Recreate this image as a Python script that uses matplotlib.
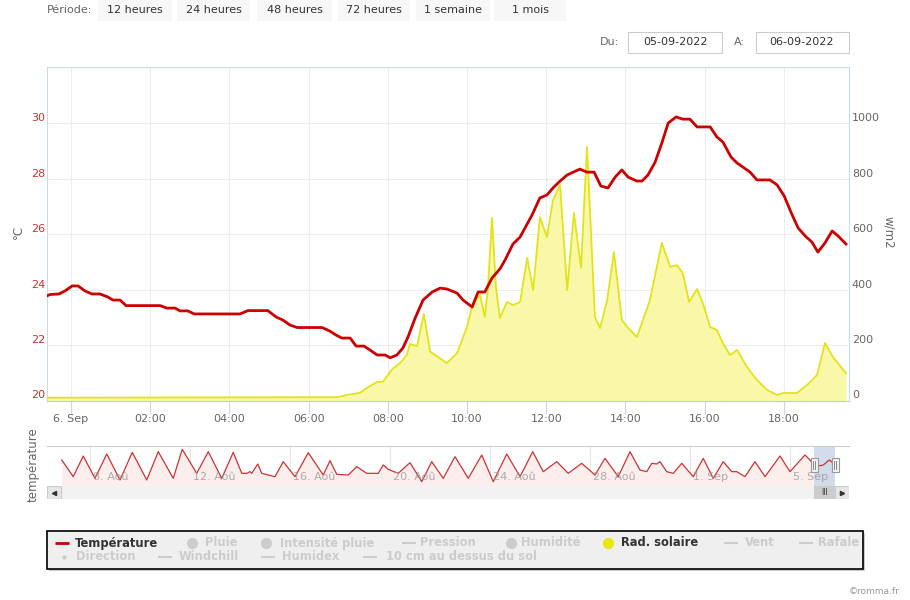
import numpy as np
import matplotlib
matplotlib.use('Agg')
import matplotlib.pyplot as plt
import matplotlib.transforms as mtransforms
from matplotlib.patches import Rectangle

# ---- données : 6 septembre 2022 (heures depuis minuit)
temp_hours = [-0.61, -0.53, -0.30, -0.15, 0.03, 0.18, 0.35, 0.53, 0.73, 0.93,
              1.06, 1.24, 1.39, 2.25, 2.42, 2.63, 2.75, 2.95, 3.11, 4.27,
              4.47, 4.97, 5.18, 5.35, 5.53, 5.71, 6.34, 6.54, 6.69, 6.84,
              7.05, 7.20, 7.40, 7.55, 7.73, 7.93, 8.06, 8.23, 8.38, 8.51,
              8.69, 8.89, 9.12, 9.32, 9.49, 9.75, 9.90, 10.13, 10.28, 10.45,
              10.63, 10.83, 10.96, 11.16, 11.34, 11.64, 11.84, 12.02, 12.17, 12.35,
              12.53, 12.85, 13.03, 13.21, 13.38, 13.56, 13.74, 13.91, 14.07, 14.29,
              14.42, 14.57, 14.75, 14.92, 15.08, 15.28, 15.45, 15.63, 15.81, 16.14,
              16.31, 16.46, 16.67, 16.82, 16.97, 17.15, 17.32, 17.65, 17.83, 18.01,
              18.18, 18.36, 18.54, 18.71, 18.86, 19.04, 19.22, 19.37, 19.57]
temperature = [23.77, 23.82, 23.84, 23.95, 24.13, 24.13, 23.95, 23.84, 23.84, 23.73,
               23.62, 23.62, 23.42, 23.42, 23.33, 23.33, 23.23, 23.23, 23.12, 23.12,
               23.24, 23.24, 23.01, 22.90, 22.72, 22.63, 22.63, 22.50, 22.36, 22.25,
               22.25, 21.96, 21.96, 21.82, 21.64, 21.64, 21.54, 21.64, 21.89, 22.29,
               22.97, 23.62, 23.91, 24.05, 24.02, 23.87, 23.62, 23.37, 23.91, 23.91,
               24.41, 24.74, 25.06, 25.64, 25.89, 26.68, 27.30, 27.41, 27.66, 27.91,
               28.13, 28.34, 28.23, 28.23, 27.73, 27.66, 28.05, 28.31, 28.05, 27.91,
               27.91, 28.13, 28.59, 29.28, 30.00, 30.22, 30.14, 30.14, 29.86, 29.86,
               29.50, 29.32, 28.77, 28.56, 28.41, 28.23, 27.95, 27.95, 27.77, 27.37,
               26.79, 26.22, 25.93, 25.71, 25.35, 25.68, 26.11, 25.93, 25.64]

sol_hours = [-0.61, 6.72, 6.97, 7.30, 7.47, 7.73, 7.88, 8.11, 8.31, 8.48,
             8.56, 8.74, 8.91, 9.07, 9.24, 9.49, 9.75, 10.00, 10.15, 10.33,
             10.45, 10.53, 10.63, 10.73, 10.83, 11.01, 11.16, 11.34, 11.52, 11.67,
             11.84, 12.02, 12.17, 12.35, 12.53, 12.70, 12.88, 13.03, 13.23, 13.36,
             13.54, 13.71, 13.91, 14.07, 14.29, 14.62, 14.92, 15.13, 15.30, 15.45,
             15.61, 15.81, 15.96, 16.14, 16.31, 16.46, 16.64, 16.82, 17.07, 17.32,
             17.58, 17.83, 17.98, 18.33, 18.59, 18.84, 19.04, 19.24, 19.57]
rad_solaire = [10, 12, 20, 28, 45, 67, 68, 113, 135, 164,
               204, 196, 312, 176, 160, 135, 171, 265, 351, 380,
               301, 409, 658, 409, 297, 355, 344, 355, 514, 398,
               661, 589, 722, 777, 398, 676, 478, 914, 301, 261,
               362, 535, 290, 261, 229, 362, 568, 481, 488, 459,
               355, 402, 349, 265, 254, 207, 164, 182, 121, 74,
               38, 20, 27, 27, 56, 92, 207, 157, 99]

hour_ticks = [0, 2, 4, 6, 8, 10, 12, 14, 16, 18]
hour_labels = ['6. Sep', '02:00', '04:00', '06:00', '08:00', '10:00',
               '12:00', '14:00', '16:00', '18:00']
temp_ticks = [20, 22, 24, 26, 28, 30]
rad_ticks = [0, 200, 400, 600, 800, 1000]

# navigateur : jour (8 = 8 août, 32 = 1er sept), température
nav_days = [6.87, 7.33, 7.73, 8.20, 8.67, 9.20, 9.69, 10.27, 10.73, 11.33,
            11.69, 12.27, 12.73, 13.27, 13.73, 14.07, 14.27, 14.40, 14.47, 14.71,
            14.87, 15.40, 15.73, 16.20, 16.73, 17.33, 17.60, 17.87, 18.33, 18.67,
            19.07, 19.53, 19.73, 19.93, 20.33, 20.80, 21.27, 21.67, 22.13, 22.60,
            23.13, 23.67, 24.13, 24.67, 25.20, 25.71, 26.13, 26.67, 27.13, 27.67,
            28.20, 28.60, 29.13, 29.60, 30.00, 30.27, 30.47, 30.67, 30.80, 31.07,
            31.33, 31.67, 32.13, 32.53, 32.93, 33.33, 33.67, 33.87, 34.20, 34.60,
            35.00, 35.60, 36.00, 36.60, 36.80, 37.00, 37.33, 37.57, 37.71]
nav_temps = [28.8, 18.8, 31.2, 17.8, 32.4, 16.8, 33.4, 16.8, 33.8, 17.8,
             35.2, 20.8, 33.8, 17.8, 33.4, 20.8, 20.8, 21.8, 20.8, 26.4,
             20.8, 18.8, 27.8, 18.8, 33.2, 19.8, 28.4, 20.2, 19.8, 24.8,
             20.8, 20.8, 25.8, 23.2, 20.8, 27.2, 15.8, 27.8, 17.8, 30.8,
             17.8, 31.8, 15.8, 32.4, 18.8, 33.8, 21.8, 27.8, 20.8, 26.8,
             19.8, 29.8, 18.8, 33.8, 22.8, 21.8, 26.8, 26.4, 27.8, 21.8,
             20.8, 26.8, 18.8, 29.8, 17.8, 27.8, 21.8, 21.8, 18.8, 27.8,
             18.8, 31.2, 21.8, 31.8, 28.8, 24.8, 25.8, 28.8, 27.2]
nav_ticks = [8, 12, 16, 20, 24, 28, 32, 36]
nav_labels = ['8. Aoû', '12. Aoû', '16. Aoû', '20. Aoû', '24. Aoû', '28. Aoû',
              '1. Sep', '5. Sep']

periodes = ['12 heures', '24 heures', '48 heures', '72 heures', '1 semaine', '1 mois']

plt.rcParams['font.family'] = ['DejaVu Sans']
W, H = 910, 600
fig = plt.figure(figsize=(9.1, 6.0), dpi=100)


def px_axes(x0, y0, x1, y1):
    return fig.add_axes([x0 / W, 1 - y1 / H, (x1 - x0) / W, (y1 - y0) / H])


# ---- graphique principal
xlim = (-0.606, 19.646)
ax = px_axes(47, 67, 849, 400.5)
ax.fill_between(sol_hours, rad_solaire, 0, color='#f9f7a8', lw=0, zorder=2)
ax.plot(sol_hours, rad_solaire, color='#e3e31a', lw=1.3, zorder=3)
ax.set_xlim(*xlim)
ax.set_ylim(0, 1202)
ax.set_yticks(rad_ticks)
ax.set_xticks(hour_ticks)
ax.set_xticklabels(hour_labels)
ax.set_axisbelow(True)
ax.grid(axis='y', color='#ededed', lw=0.8)
ax.grid(axis='x', color='#e9eef2', lw=0.8)
ax.tick_params(axis='x', length=9, color='#ccd6eb', labelsize=8, labelcolor='#666666', pad=1)
for s in ['left', 'top', 'right']:
    ax.spines[s].set_color('#c9dce8')
ax.spines['bottom'].set_color('#c4ccd6')

axT = ax.twinx()
axT.plot(temp_hours, temperature, color='#cc0000', lw=2, zorder=5)
axT.set_ylim(20, 32.02)
axT.set_yticks(temp_ticks)
for s in axT.spines.values():
    s.set_visible(False)

# côtés des graduations (twinx les inverse)
ax.yaxis.tick_right()
ax.tick_params(axis='y', which='both', left=False, labelleft=False, right=False,
               labelright=True, length=0, labelsize=8, labelcolor='#666666', pad=2)
axT.yaxis.tick_left()
axT.tick_params(axis='y', which='both', right=False, labelright=False, left=False,
                labelleft=True, length=0, labelsize=8, labelcolor='#cc3333', pad=1)

offset = mtransforms.ScaledTranslation(0, 0.06, fig.dpi_scale_trans)
for lab in axT.get_yticklabels():
    lab.set_transform(lab.get_transform() + offset)
for tick in ax.yaxis.get_major_ticks():
    tick.label2.set_transform(tick.label2.get_transform() + offset)

# ---- navigateur
nav_xlim = (6.28, 38.36)
sel = (37 + xlim[0] / 24, 37 + xlim[1] / 24)
nav = px_axes(47, 446, 849, 486)
nav.fill_between(nav_days, nav_temps, 13.2, color='#fdeeee', lw=0)
nav.plot(nav_days, nav_temps, color='#cc3333', lw=0.9)
nav.set_xlim(*nav_xlim)
nav.set_ylim(13.2, 37.2)
nav.set_xticks([])
nav.set_yticks([])
for d in nav_ticks:
    nav.axvline(d, color='#e6e6e6', lw=0.8, zorder=0)
for d, lab in zip(nav_ticks, nav_labels):
    nav.text(d + 0.12, 0.22, lab, transform=nav.get_xaxis_transform(),
             fontsize=8, color='#999999', alpha=0.8, va='center', ha='left')
for s in ['left', 'right', 'bottom']:
    nav.spines[s].set_visible(False)
nav.spines['top'].set_color('#cccccc')
nav.axvspan(sel[0], sel[1], color='#c8d4e8', alpha=0.8, lw=0)
hw = 0.3
for xs in sel:
    nav.add_patch(Rectangle((xs - hw / 2, 21.6), hw, 8.4, facecolor='#f2f2f2',
                            edgecolor='#999999', lw=0.8, zorder=6))
    for dx in (-0.04, 0.04):
        nav.plot([xs + dx, xs + dx], [23.5, 28.1], color='#777777', lw=0.6, zorder=7)

# ---- barre de défilement
sb = px_axes(47, 486, 849, 499)
sb.set_xlim(*nav_xlim)
sb.set_ylim(0, 1)
sb.set_facecolor('#f2f2f2')
sb.set_xticks([])
sb.set_yticks([])
for s in sb.spines.values():
    s.set_visible(False)
bw = 14 / 802
sb.add_patch(Rectangle((0, 0), bw, 1, transform=sb.transAxes, facecolor='#e6e6e6',
                       edgecolor='#cccccc', lw=0.8))
sb.add_patch(Rectangle((1 - bw, 0), bw, 1, transform=sb.transAxes, facecolor='#e6e6e6',
                       edgecolor='#cccccc', lw=0.8))
sb.plot([bw / 2], [0.5], marker='<', ms=3, color='#333333', transform=sb.transAxes)
sb.plot([1 - bw / 2], [0.5], marker='>', ms=3, color='#333333', transform=sb.transAxes)
sb.add_patch(Rectangle((sel[0], 0), sel[1] - sel[0], 1, facecolor='#cccccc', lw=0))
sb.text(sum(sel) / 2, 0.5, 'III', fontsize=5.5, color='#333333', ha='center', va='center')

# ---- éléments de page (entête, légende)
ov = fig.add_axes([0, 0, 1, 1])
ov.set_xlim(0, W)
ov.set_ylim(H, 0)
ov.axis('off')

ov.text(47, 10, 'Période:', fontsize=8, color='#666666', va='center')
btn_x = [98, 177, 257, 338, 416, 494]
btn_w = [74, 73, 75, 72, 74, 72]
for x, w, lab in zip(btn_x, btn_w, periodes):
    ov.add_patch(Rectangle((x, 0), w, 21, facecolor='#f7f7f7', edgecolor='none'))
    ov.text(x + w / 2, 10, lab, fontsize=8, color='#333333', ha='center', va='center')

ov.text(600, 42, 'Du:', fontsize=8, color='#666666', va='center')
ov.add_patch(Rectangle((628, 32), 94, 21, facecolor='white', edgecolor='#cccccc', lw=0.8))
ov.text(675, 42, '05-09-2022', fontsize=8, color='#333333', ha='center', va='center')
ov.text(734, 42, 'A:', fontsize=8, color='#666666', va='center')
ov.add_patch(Rectangle((756, 32), 93, 21, facecolor='white', edgecolor='#cccccc', lw=0.8))
ov.text(802, 42, '06-09-2022', fontsize=8, color='#333333', ha='center', va='center')

ov.text(18, 232, '°C', fontsize=8.5, color='#666666', rotation=90, ha='center', va='center')
ov.text(889, 232, 'w/m2', fontsize=8.5, color='#666666', rotation=270, ha='center', va='center')
ov.text(33, 465, 'température', fontsize=8.5, color='#666666', rotation=90,
        ha='center', va='center')

# légende
ov.add_patch(Rectangle((49, 533), 816, 38, facecolor='#999999', alpha=0.5, lw=0))
ov.add_patch(Rectangle((47, 531), 816, 38, facecolor='#efefef', edgecolor='black', lw=1.2))
on, off = '#333333', '#cccccc'
legend_rows = [
    # (texte, symbole, couleur symbole, x symbole, x texte, y, actif)
    ('Température', 'line', '#cc0000', 55, 75, 543, True),
    ('Pluie', 'dot', off, 192, 205, 543, False),
    ('Intensité pluie', 'dot', off, 266, 280, 543, False),
    ('Pression', 'line', off, 402, 420, 543, False),
    ('Humidité', 'dot', off, 511, 521, 543, False),
    ('Rad. solaire', 'dot', '#e8e800', 608, 621, 543, True),
    ('Vent', 'line', off, 724, 745, 543, False),
    ('Rafale', 'line', off, 799, 818, 543, False),
    ('Direction', 'small', off, 64, 76, 557, False),
    ('Windchill', 'line', off, 158, 179, 557, False),
    ('Humidex', 'line', off, 261, 282, 557, False),
    ('10 cm au dessus du sol', 'line', off, 363, 386, 557, False),
]
for lab, kind, col, xs, xt, y, act in legend_rows:
    if kind == 'line':
        ov.plot([xs, xs + 14], [y, y], color=col, lw=2 if act else 1.5, solid_capstyle='butt')
    elif kind == 'dot':
        ov.plot([xs], [y], 'o', ms=8, color=col, mec='none')
    else:
        ov.plot([xs], [y], 'o', ms=3, color=col, mec='none')
    ov.text(xt, y, lab, fontsize=8.3, fontweight='bold', color=on if act else off,
            va='center', ha='left')

ov.text(900, 591, '©romma.fr', fontsize=6.5, color='#999999', ha='right', va='center')

fig.savefig('out.png', dpi=100)
